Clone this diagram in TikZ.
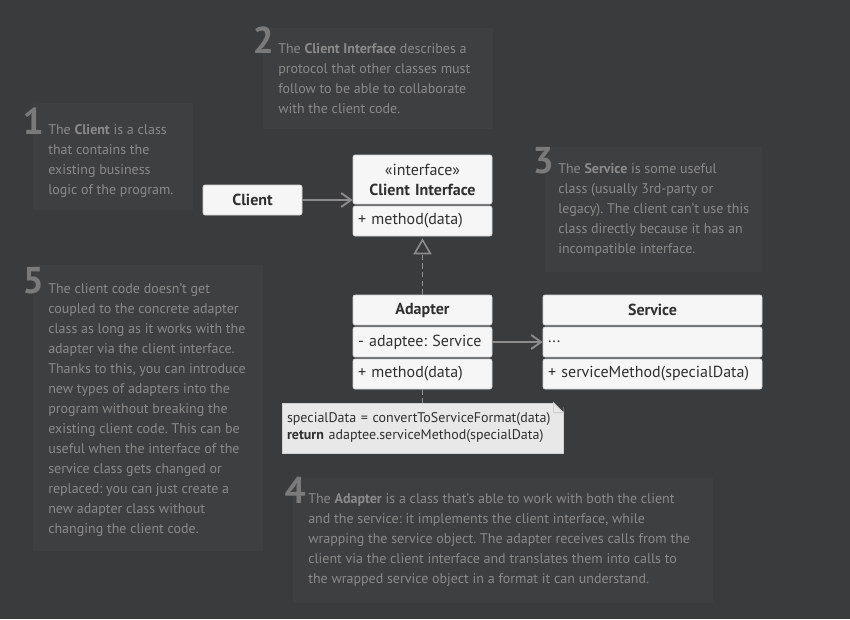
\documentclass[tikz,border=0pt]{standalone}
\usepackage{fontspec}
\setmainfont{PT Sans}
\usetikzlibrary{positioning,arrows.meta}
\frenchspacing
\definecolor{bgc}{HTML}{3A3B3C}
\definecolor{panelc}{HTML}{3E3F40}
\definecolor{notec}{HTML}{8A8A8A}
\definecolor{numc}{HTML}{7A7A7A}
\definecolor{boxc}{HTML}{F6F6F6}
\definecolor{boxline}{HTML}{D0D0D0}
\definecolor{inkc}{HTML}{303030}
\definecolor{linec}{HTML}{8C8C8C}
\definecolor{memoc}{HTML}{E8E8E8}
\tikzstyle{num} = [text=numc,inner sep=0,anchor=base east,font=\fontsize{28}{28}\selectfont\bfseries]
\tikzstyle{note} = [text=notec,inner sep=0,anchor=north west,align=left,font=\fontsize{10.5}{15}\selectfont]
\tikzstyle{field} = [fill=boxc,draw=boxline,line width=0.4pt,rounded corners=1.5pt,minimum height=22.5pt,inner xsep=3.75pt,inner ysep=0pt,align=left,text=inkc,font=\fontsize{12}{15}\selectfont]
\tikzstyle{head} = [field,align=center]
\tikzstyle{arrow} = [draw=linec,line width=1.4pt,-{Straight Barb[length=7.5pt,width=10.5pt]}]
\tikzstyle{realize} = [draw=linec,line width=1.2pt,dash pattern=on 4pt off 2.5pt,-{Triangle[open,length=12pt,width=13.5pt]}]
\tikzstyle{dashline} = [draw=linec,line width=1.2pt,dash pattern=on 4pt off 2.5pt]

\begin{document}
\begin{tikzpicture}[x=0.75pt,y=-0.75pt]
\fill[bgc] (0,0) rectangle (850,619);
\useasboundingbox (0,0) rectangle (850,619);

\fill[panelc] (33,103) rectangle (193,210);
\fill[panelc] (263,28) rectangle (493,129);
\fill[panelc] (545,147) rectangle (762,272);
\fill[panelc] (33,265) rectangle (263,551);
\fill[panelc] (293,478) rectangle (713,603);

\node[num] (n1) at (44,134) {1};
\node[note] (t1) at (48,124) {The \textbf{Client} is a class\\that contains the\\existing business\\logic of the program.};
\node[num] (n2) at (274,53) {2};
\node[note] (t2) at (278,43) {The \textbf{Client Interface} describes a\\protocol that other classes must\\follow to be able to collaborate\\with the client code.};
\node[num] (n3) at (554,173) {3};
\node[note] (t3) at (558,163) {The \textbf{Service} is some useful\\class (usually 3rd-party or\\legacy). The client can’t use this\\class directly because it has an\\incompatible interface.};
\node[num] (n5) at (44,293) {5};
\node[note] (t5) at (48,283) {The client code doesn’t get\\coupled to the concrete adapter\\class as long as it works with the\\adapter via the client interface.\\Thanks to this, you can introduce\\new types of adapters into the\\program without breaking the\\existing client code. This can be\\useful when the interface of the\\service class gets changed or\\replaced: you can just create a\\new adapter class without\\changing the client code.};
\node[num] (n4) at (306,503) {4};
\node[note] (t4) at (308,493) {The \textbf{Adapter} is a class that’s able to work with both the client\\and the service: it implements the client interface, while\\wrapping the service object. The adapter receives calls from the\\client via the client interface and translates them into calls to\\the wrapped service object in a format it can understand.};

\node[head,text width=66.75pt] (client) at (252.5,200) {\textbf{Client}};
\node[head,text width=96.75pt,minimum height=36.75pt] (cihead) at (422.5,179.5) {«interface»\\\textbf{Client Interface}};
\node[field,text width=96.75pt] (cimeth) at (422.5,221) {+ method(data)};
\node[head,text width=96.75pt] (adahead) at (422.5,310) {\textbf{Adapter}};
\node[field,text width=96.75pt] (adafield) at (422.5,342) {- adaptee: Service};
\node[field,text width=96.75pt] (adameth) at (422.5,374) {+ method(data)};
\node[head,text width=156.75pt] (srvhead) at (652.5,310) {\textbf{Service}};
\node[field,text width=156.75pt] (srvfield) at (652.5,342) {...};
\node[field,text width=156.75pt] (srvmeth) at (652.5,374) {+ serviceMethod(specialData)};

\node[fill=memoc,draw=boxline,line width=0.6pt,text width=203.25pt,minimum height=37.5pt,inner xsep=3.75pt,inner ysep=0pt,align=left,text=inkc,font=\fontsize{10.5}{12.75}\selectfont] (memo) at (422.5,428) {specialData = convertToServiceFormat(data)\\\textbf{return} adaptee.serviceMethod(specialData)};
\fill[bgc] ([xshift=-7.5pt]memo.north east) -- ([xshift=0.5pt,yshift=0.5pt]memo.north east) -- ([yshift=-7.5pt]memo.north east) -- cycle;
\draw[fill=memoc,draw=boxline,line width=0.6pt] ([xshift=-7.5pt]memo.north east) -- ([xshift=-7.5pt,yshift=-7.5pt]memo.north east) -- ([yshift=-7.5pt]memo.north east) -- cycle;

\draw[arrow] (client) -- (client -| cihead.west);
\draw[arrow] (adafield) -- (srvfield);
\draw[realize,shorten >=1.5pt] (adahead) -- (cimeth);
\draw[dashline] (adameth) -- (adameth |- memo.north);
\end{tikzpicture}
\end{document}
